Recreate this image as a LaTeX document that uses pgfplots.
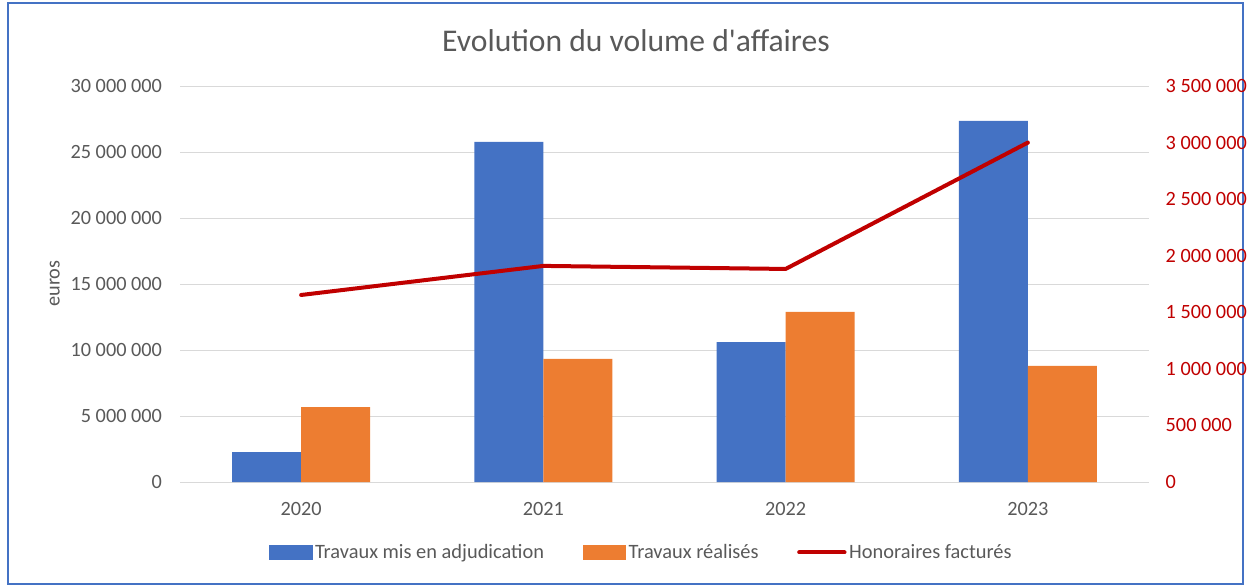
\documentclass[border=0pt]{standalone}
\usepackage{pgfplots}
\pgfplotsset{compat=1.18}
\usepackage{fontspec}
\setmainfont{Carlito}
\definecolor{xlblue}{HTML}{4472C4}
\definecolor{xlorange}{HTML}{ED7D31}
\definecolor{xlred}{HTML}{C00000}
\definecolor{xltext}{HTML}{595959}
\definecolor{xlgrid}{HTML}{D9D9D9}
\begin{document}
\begin{tikzpicture}
% 1 px of the reference = 0.75pt
\path[use as bounding box] (0,0) rectangle (937.5pt,440.25pt);
\draw[xlblue, line width=1.5pt] (6pt,2.25pt) rectangle (932.25pt,438pt);

\pgfplotsset{
  every axis/.append style={
    scale only axis, width=726.75pt, height=297pt,
    at={(135pt,78.75pt)}, anchor=south west,
    xmin=-0.5, xmax=3.5, ymin=0,
    axis line style={draw=none},
    major tick length=0pt,
    scaled y ticks=false,
    /pgf/number format/.cd, fixed, 1000 sep={\ }, assume math mode=true,
  },
}

% bars, left axis
\begin{axis}[
    ybar=0pt, bar width=51.75pt,
    ymax=30000000, ytick={0,5000000,...,30000000},
    xtick={0,1,2,3}, xticklabels={2020,2021,2022,2023},
    ymajorgrids, grid style={xlgrid, line width=0.75pt},
    ticklabel style={font=\fontsize{15.2}{18}\selectfont, text=xltext},
    yticklabel style={xshift=-10pt},
    xticklabel style={yshift=-11.5pt},
]
\addplot[fill=xlblue, draw=none] coordinates {(0,2270000) (1,25760000) (2,10600000) (3,27350000)};
\addplot[fill=xlorange, draw=none] coordinates {(0,5680000) (1,9320000) (2,12880000) (3,8790000)};
\end{axis}

% line, right axis
\begin{axis}[
    ymax=3500000, ytick={0,500000,...,3500000},
    axis y line*=right, axis x line=none,
    yticklabel style={font=\fontsize{15.2}{18}\selectfont, text=xlred, xshift=9pt},
    legend columns=3,
    legend style={draw=none, fill=none, at={(0.4765,-0.178)}, anchor=center,
      font=\fontsize{15.3}{18}\selectfont, text=xltext,
      nodes={inner sep=2pt},
      /tikz/every even column/.append style={column sep=27pt}},
]
\addlegendimage{legend image code/.code={\fill[xlblue] (0pt,-5.25pt) rectangle (32pt,5.25pt);}}
\addlegendentry{Travaux mis en adjudication}
\addlegendimage{legend image code/.code={\fill[xlorange] (0pt,-5.25pt) rectangle (32pt,5.25pt);}}
\addlegendentry{Travaux réalisés}
\addplot[xlred, line width=3pt, line cap=round, line join=round,
  legend image code/.code={\draw[xlred, line width=3pt, line cap=round] (0pt,0pt) -- (34pt,0pt);}]
  coordinates {(0,1653000) (1,1910000) (2,1883000) (3,3000000)};
\addlegendentry{Honoraires facturés}
\end{axis}

\node[font=\fontsize{23.7}{28}\selectfont, text=xltext] at (477pt,409.5pt) {Evolution du volume d\textquotesingle affaires};
\node[rotate=90, font=\fontsize{15.2}{18}\selectfont, text=xltext] at (41pt,227.6pt) {euros};
\end{tikzpicture}
\end{document}
